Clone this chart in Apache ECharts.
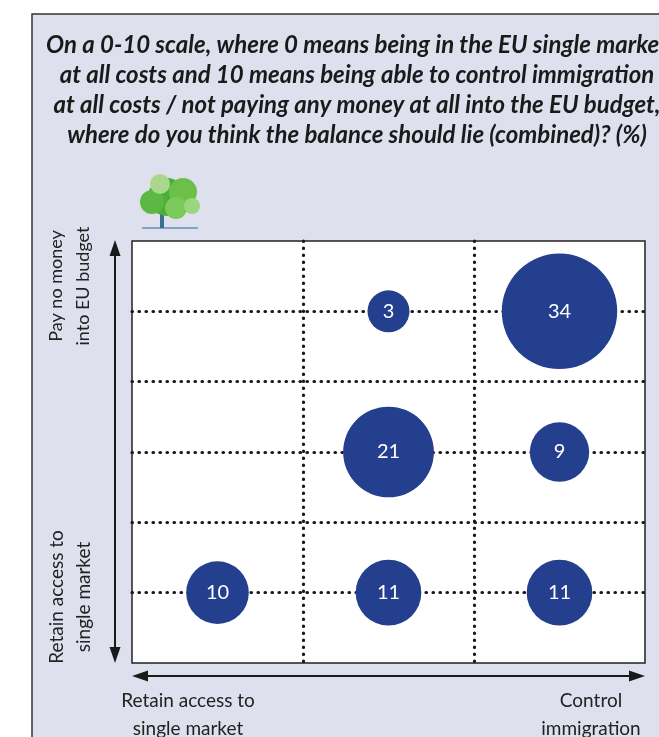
<!DOCTYPE html>
<html><head><meta charset="utf-8">
<script src="https://cdn.jsdelivr.net/npm/echarts@6/dist/echarts.min.js"></script>
<style>html,body{margin:0;padding:0;background:#fff}#c{width:659px;height:737px}</style>
</head><body><div id="c"></div>
<script>
// Column (x) and row (y) categories of the 3x3 grid
const columns = ['Retain access to single market', 'Middle', 'Control immigration'];
const rows = ['Retain access to single market', 'Middle', 'Pay no money into EU budget'];
// [column index, row index, percent]
const cells = [
  [0, 0, 10], [1, 0, 11], [2, 0, 11],
  [1, 1, 21], [2, 1, 9],
  [1, 2, 3], [2, 2, 34]
];
const titleText = 'On a 0-10 scale, where 0 means being in the EU single market\nat all costs and 10 means being able to control immigration\nat all costs / not paying any money at all into the EU budget,\nwhere do you think the balance should lie (combined)? (%)';

const chart = echarts.init(document.getElementById('c'), null, {renderer: 'canvas'});
const dotted = {color: '#1a1a1a', width: 3.2, type: [0.5, 6.5], cap: 'round'};
const txt = '#222';
const font = 'Lato';

chart.setOption({
  animation: false,
  backgroundColor: '#ffffff',
  title: {
    text: titleText, left: 352, top: 25, textAlign: 'center',
    textStyle: {fontFamily: font, fontStyle: 'italic', fontWeight: 'bold', fontSize: 24, lineHeight: 30, color: '#1a1a1a'}
  },
  grid: {left: 132, top: 241, right: 14, bottom: 74, show: true, backgroundColor: '#ffffff', borderColor: '#222', borderWidth: 1.5, z: 0},
  xAxis: {
    type: 'value', min: 0, max: columns.length, interval: 1, z: 3,
    axisLine: {show: false}, axisTick: {show: false}, axisLabel: {show: false},
    splitLine: {show: true, showMinLine: false, showMaxLine: false, lineStyle: dotted}
  },
  yAxis: {
    type: 'value', min: 0, max: rows.length, interval: 0.5, z: 3,
    axisLine: {show: false}, axisTick: {show: false}, axisLabel: {show: false},
    splitLine: {show: true, showMinLine: false, showMaxLine: false, lineStyle: dotted}
  },
  series: [{
    type: 'scatter', z: 5,
    data: cells.map(c => [c[0] + 0.5, c[1] + 0.5, c[2]]),
    symbolSize: v => Math.max(42, 19.8 * Math.sqrt(v[2])),
    itemStyle: {color: '#253f8f', opacity: 1},
    label: {show: true, position: 'inside', formatter: p => p.value[2], color: '#fff', fontFamily: font, fontSize: 20}
  }],
  graphic: [
    {type: 'rect', z: -10, shape: {x: 32, y: 14, width: 700, height: 800}, style: {fill: '#dee0ee', stroke: '#333', lineWidth: 1.5}},
    // tree logo
    {type: 'group', z: -5, children: [
      {type: 'line', shape: {x1: 142, y1: 228, x2: 198, y2: 228}, style: {stroke: '#7fa6c8', lineWidth: 2}},
      {type: 'rect', shape: {x: 160, y: 208, width: 4, height: 20}, style: {fill: '#3d6e8c'}},
      {type: 'circle', shape: {cx: 167, cy: 197, r: 19}, style: {fill: '#4cae3a'}},
      {type: 'circle', shape: {cx: 183, cy: 192, r: 14}, style: {fill: '#6cc04a'}},
      {type: 'circle', shape: {cx: 152, cy: 202, r: 12}, style: {fill: '#5cb843'}},
      {type: 'circle', shape: {cx: 176, cy: 208, r: 11}, style: {fill: '#7cc85a'}},
      {type: 'circle', shape: {cx: 160, cy: 184, r: 10}, style: {fill: '#a9d88c'}},
      {type: 'circle', shape: {cx: 192, cy: 206, r: 8}, style: {fill: '#9ad67b'}}
    ]},
    // vertical arrow
    {type: 'line', shape: {x1: 115, y1: 250, x2: 115, y2: 653}, style: {stroke: '#1a1a1a', lineWidth: 2}},
    {type: 'polygon', shape: {points: [[115, 240], [109.5, 256], [120.5, 256]]}, style: {fill: '#1a1a1a'}},
    {type: 'polygon', shape: {points: [[115, 663], [109.5, 647], [120.5, 647]]}, style: {fill: '#1a1a1a'}},
    // horizontal arrow
    {type: 'line', shape: {x1: 142, y1: 676, x2: 635, y2: 676}, style: {stroke: '#1a1a1a', lineWidth: 2}},
    {type: 'polygon', shape: {points: [[132, 676], [148, 670.5], [148, 681.5]]}, style: {fill: '#1a1a1a'}},
    {type: 'polygon', shape: {points: [[645, 676], [629, 670.5], [629, 681.5]]}, style: {fill: '#1a1a1a'}},
    // y labels
    {type: 'text', x: 70, y: 286, rotation: Math.PI / 2,
      style: {text: 'Pay no money\ninto EU budget', fill: txt, font: '18px ' + font, textAlign: 'center', textVerticalAlign: 'middle', lineHeight: 27}},
    {type: 'text', x: 70, y: 597, rotation: Math.PI / 2,
      style: {text: 'Retain access to\nsingle market', fill: txt, font: '19px ' + font, textAlign: 'center', textVerticalAlign: 'middle', lineHeight: 27}},
    // x labels
    {type: 'text', x: 188, y: 715,
      style: {text: 'Retain access to\nsingle market', fill: txt, font: '19px ' + font, textAlign: 'center', textVerticalAlign: 'middle', lineHeight: 28}},
    {type: 'text', x: 591, y: 715,
      style: {text: 'Control\nimmigration', fill: txt, font: '19px ' + font, textAlign: 'center', textVerticalAlign: 'middle', lineHeight: 28}}
  ]
});
</script></body></html>
